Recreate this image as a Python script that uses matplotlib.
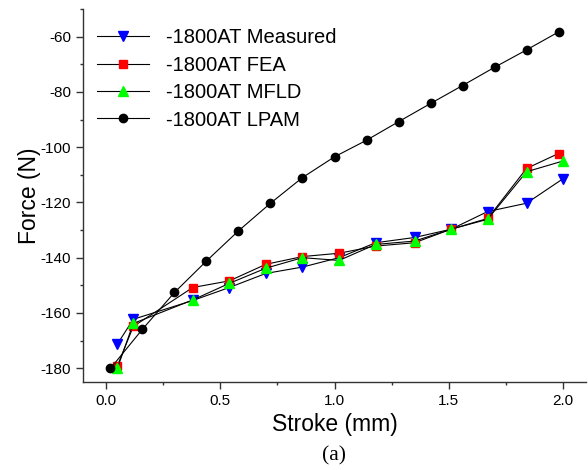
import numpy as np
import matplotlib
matplotlib.use("Agg")
import matplotlib.pyplot as plt
from matplotlib.ticker import MultipleLocator

plt.rcParams['font.family'] = ['Liberation Sans', 'DejaVu Sans']
plt.rcParams['axes.unicode_minus'] = False

# stroke positions (mm)
x_meas = [0.05, 0.12, 0.38, 0.54, 0.70, 0.86, 1.02, 1.18, 1.35, 1.51, 1.67, 1.84, 2.00]
x_fea = [0.05, 0.12, 0.38, 0.54, 0.70, 0.86, 1.02, 1.18, 1.35, 1.51, 1.67, 1.84, 1.98]
x_lpam = [0.02, 0.16, 0.30, 0.44, 0.58, 0.72, 0.86, 1.00, 1.14, 1.28, 1.42, 1.56, 1.70, 1.84, 1.98]

# forces (N)
f_meas = [-171.3, -162.3, -155.5, -150.8, -145.7, -143.4, -140.0, -134.6, -132.7, -129.7, -123.3, -120.3, -111.4]
f_fea = [-179.2, -164.9, -150.8, -148.4, -142.4, -139.6, -138.4, -135.8, -134.6, -129.7, -125.8, -107.7, -102.3]
f_mfld = [-180.1, -163.8, -155.3, -149.3, -143.8, -140.0, -141.0, -135.2, -134.0, -129.7, -126.1, -108.9, -105.0]
f_lpam = [-180.1, -165.9, -152.6, -141.2, -130.3, -120.3, -111.0, -103.5, -97.5, -90.8, -84.2, -77.7, -71.1, -64.8, -58.3]

fig = plt.figure(figsize=(5.88, 4.70), dpi=100)
ax = fig.add_axes([83/588, 1-382/470, (586-83)/588, (382-9)/470])

lw = 0.8
ax.plot(x_meas, f_meas, color='black', lw=lw, marker='v', ms=7.5,
        mfc='#0000ff', mec='#0000ff', label='-1800AT Measured')
ax.plot(x_fea, f_fea, color='black', lw=lw, marker='s', ms=5.5,
        mfc='#ff0000', mec='#ff0000', label='-1800AT FEA')
ax.plot(x_meas, f_mfld, color='black', lw=lw, marker='^', ms=7.5,
        mfc='#00ff00', mec='#00ff00', label='-1800AT MFLD')
ax.plot(x_lpam, f_lpam, color='black', lw=lw, marker='o', ms=6,
        mfc='black', mec='black', label='-1800AT LPAM')

ax.set_xlim(-0.1, 2.1)
ax.set_ylim(-185, -50)
ax.xaxis.set_major_locator(MultipleLocator(0.5))
ax.xaxis.set_minor_locator(MultipleLocator(0.25))
ax.yaxis.set_major_locator(MultipleLocator(20))
ax.yaxis.set_minor_locator(MultipleLocator(10))
ax.set_yticks(np.arange(-180, -59, 20))

for s in ['top', 'right']:
    ax.spines[s].set_visible(False)
for s in ['left', 'bottom']:
    ax.spines[s].set_linewidth(1.0)
    ax.spines[s].set_color('#333333')

ax.tick_params(which='major', direction='out', length=5, width=1.0,
               labelsize=11, pad=3.5, color='#333333')
ax.tick_params(which='minor', direction='out', length=2.5, width=1.0,
               color='#333333')

ax.set_xlabel('Stroke (mm)', fontsize=16.5, labelpad=4)
ax.set_ylabel('Force (N)', fontsize=16.5, labelpad=0)

ax.legend(loc='upper left', bbox_to_anchor=(-0.01, 1.0), frameon=False,
          fontsize=14.5, handlelength=2.6, handletextpad=0.8,
          labelspacing=0.42, borderaxespad=0.55)

fig.text(334/588, 1-456/470, '(a)', ha='center', va='center',
         fontsize=15.5, family=['Liberation Serif', 'DejaVu Serif'])

fig.savefig('out.png', dpi=100)
